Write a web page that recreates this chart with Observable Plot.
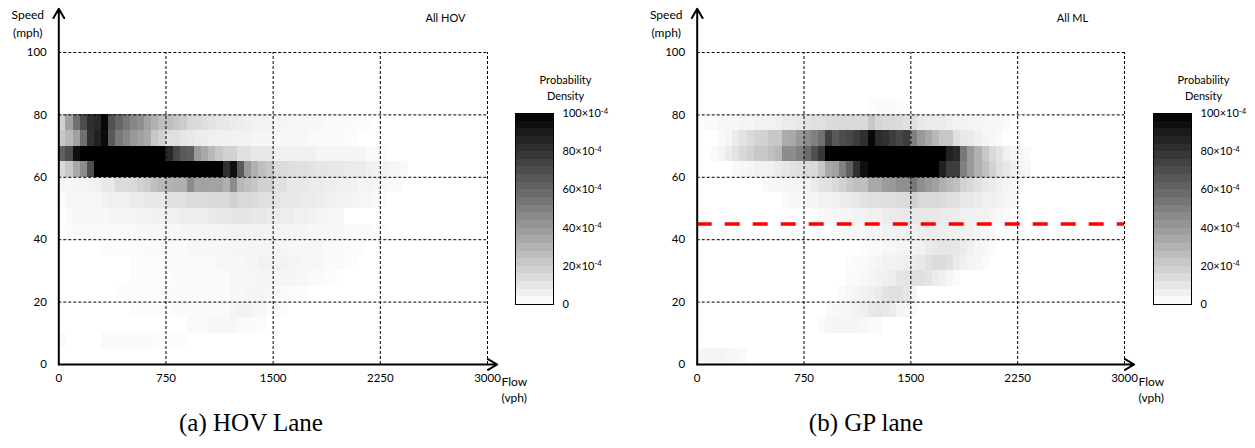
<!DOCTYPE html>
<html><head><meta charset="utf-8">
<script src="https://cdn.jsdelivr.net/npm/d3@7"></script>
<script src="https://cdn.jsdelivr.net/npm/@observablehq/plot@0.6"></script>
<style>
body{margin:0;background:#fff;}
#fig{position:relative;width:1255px;height:448px;overflow:hidden;font-family:Lato,"Open Sans",sans-serif;}
#fig svg{position:absolute;overflow:visible;}
.cap{position:absolute;top:409px;font-family:"Liberation Serif","Times New Roman",serif;font-size:25px;color:#000;white-space:nowrap;transform:translateX(-50%);}
</style></head><body><div id="fig"></div>
<script>
// ---- data (density in units of 10^-4) ----
const flowBin = 50;   // vph per cell
const speedBin = 5;   // mph per cell
const speedBins = [80,75,70,65,60,55,50,45,40,35,30,25,20,15,10,5,0];
const xTickValues = [0,750,1500,2250,3000];
const yTickValues = [0,20,40,60,80,100];
const legendTicks = [0,20,40,60,80,100];
const gpSpeedThreshold = [45];

// HOV lane: one row per speed bin (top = 80 mph), one value per 50-vph flow bin from 0
const hovDensity = [
  [],
  [18,37,56,70,82,84,97,68,60,53,47,44,37,31,26,25,22,20,15,14,12,11,10,9,8,7,6,5,5,5,4,4,3,3,3,3,3,2,2,2,2,2,1,1],
  [22,28,37,56,81,87,96,65,53,47,40,37,34,22,18,12,12,10,9,8,7,6,6,6,5,5,5,4,4,4,3,3,3,3,3,2,2,2,2,2,1,1],
  [62,70,94,110,120,125,130,130,130,130,130,125,120,115,110,84,72,65,63,40,34,28,22,18,18,12,12,9,9,9,6,6,6,6,6,6,4,4,4,4,4,4,4,2,2,2],
  [15,22,34,45,69,110,120,130,130,130,130,130,130,130,130,130,120,120,120,115,110,110,105,81,94,65,40,31,25,22,15,14,13,12,12,11,10,10,9,9,8,8,7,6,5,5,4,3,2],
  [3,3,4,4,5,6,9,9,14,14,15,18,20,25,28,30,31,31,45,36,37,36,36,31,45,28,25,22,18,18,12,12,9,9,9,8,8,7,7,6,6,5,4,4,3,3,2,2],
  [1,3,3,3,3,3,5,6,6,6,8,8,9,9,9,12,12,12,14,14,14,15,15,15,18,15,15,14,12,12,11,9,9,9,8,8,7,6,6,5,5,4,3,3,2,2],
  [0,2,3,3,3,3,3,4,4,4,4,5,5,6,6,6,6,7,7,7,7,8,9,9,10,10,10,9,9,8,8,7,7,6,6,5,4,4,3,3],
  [0,1,2,2,2,2,2,2,2,2,2,3,3,3,3,3,3,4,4,4,4,4,4,5,5,5,5,5,5,5,4,4,4,4,4,3,3,3,3,3,2,2,2,2,1,1],
  [0,0,0,0,0,0,1,1,1,1,1,2,2,2,2,2,2,2,3,3,3,3,3,3,4,4,4,4,4,4,4,4,3,3,3,3,3,2,2,2,2,1,1],
  [0,0,0,0,0,0,0,0,0,0,1,1,1,1,1,2,2,2,2,2,2,2,3,3,3,3,4,4,5,5,5,5,4,4,3,3,3,2,2,2,1,1],
  [0,0,0,0,0,0,0,0,0,0,1,1,1,1,1,1,2,2,2,2,2,2,2,2,3,3,3,3,4,4,4,4,4,3,3,2,2,1,1],
  [0,0,0,0,0,0,0,0,1,1,1,1,1,1,2,2,2,2,2,2,2,2,2,2,3,3,4,4,4,3,3,2,2,1,1],
  [0,0,0,0,0,0,0,0,0,0,1,1,1,1,1,1,2,2,2,2,2,2,2,2,4,5,5,4,3,2,2,1],
  [0,0,0,0,0,0,0,0,0,0,0,0,0,0,0,0,0,0,2,2,2,3,3,3,3,2,2,2,1],
  [2,0,0,0,0,0,2,2,2,2,2,2,2,1,1,1,1,1],
  []
];

// GP lane (All ML)
const gpDensity = [
  [0,0,0,0,0,0,0,0,0,0, 0,0,0,0,0,0,0,0,0,0, 0,0,0,0,1,2,2,2,1],
  [0,2,2,3,3,3,4,4,5,5,5,6,8,8,9,11,12,12,14,14,15,15,15,15,22,16,15,15,14,12,12,9,8,8,8,6,5,5,4,4,3,3,3,2],
  [0,0,0,2,4,8,11,14,17,18,22,22,33,34,40,45,50,56,75,65,70,72,76,81,97,83,81,76,72,76,50,40,34,28,22,22,12,9,8,6,4,3,2],
  [0,0,2,4,8,11,15,18,22,22,25,28,45,45,50,58,69,78,110,120,130,135,140,140,140,140,140,140,135,130,130,125,120,110,105,87,84,53,40,31,22,15,11,6,4,3,2],
  [0,0,0,0,0,2,3,4,5,5,6,8,9,11,12,14,15,22,34,37,50,62,81,94,110,120,130,135,135,135,130,125,115,105,87,76,76,50,40,31,25,18,12,9,6,4,3],
  [0,0,0,0,0,0,0,0,0,2,3,3,4,4,4,5,8,11,12,15,18,22,25,25,34,34,39,40,44,44,53,44,40,37,31,28,25,18,15,12,9,8,6,4,3,2],
  [0,0,0,0,0,0,0,0,0,0,0,0,2,3,3,4,4,5,5,6,7,8,9,11,12,12,13,13,14,14,18,15,15,15,14,13,12,9,9,8,6,6,5,4,3],
  [0,0,0,0,0,0,0,0,0,0, 0,0,0,0,0,0,0,2,3,3,4,4,5,5,6,6,7,8,8,9,9,9,9,9,8,8,7,6,6,5,5,4,3,2],
  [0,0,0,0,0,0,0,0,0,0, 0,0,0,0,0,0,0,0,0,0, 2,2,3,3,4,4,5,5,6,6,6,7,7,7,7,6,6,5,5,4,3,2],
  [0,0,0,0,0,0,0,0,0,0, 0,0,0,0,0,0,0,0,0,0, 0,0,0,1,2,2,3,3,4,4,5,6,8,9,10,10,9,8,6,4,3,2],
  [0,0,0,0,0,0,0,0,0,0, 0,0,0,0,0,0,0,0,0,0, 0,1,2,2,3,4,5,5,6,7,8,9,12,14,14,12,8,6,4,3,2],
  [0,0,0,0,0,0,0,0,0,0, 0,0,0,0,0,0,0,0,0,0, 0,2,2,3,4,5,6,7,10,11,12,12,11,8,6,4,2],
  [0,0,0,0,0,0,0,0,0,0, 0,0,0,0,0,0,0,0,0,0, 2,3,4,5,6,8,11,12,12,10,4],
  [0,0,0,0,0,0,0,0,0,0, 0,0,0,0,0,0,0,0,2,3,3,4,5,6,9,10,9,7,4,3,2],
  [0,0,0,0,0,0,0,0,0,0, 0,0,0,0,0,0,0,2,3,4,4,4,4,3,2,2],
  [],
  [3,4,4,4,3,3,2]
];

// ---- drawing ----
const FONT = "Lato, 'Open Sans', sans-serif";
const colorScale = {type: "linear", domain: [0, 100], range: ["#ffffff", "#000000"], clamp: true};
const axisTopSpeed = 114;   // y-axis arrow extends beyond 100
const axisRightFlow = 3068; // x-axis arrow extends beyond 3000

function toCells(matrix) {
  const out = [];
  speedBins.forEach((s, i) => matrix[i].forEach((v, j) => {
    if (v > 0) out.push({flow: j * flowBin, speed: s, v});
  }));
  return out;
}

function panel({matrix, tag, marginLeft, marginRight, extra = [], tagDx}) {
  return Plot.plot({
    width: 627, height: 400,
    marginLeft, marginRight, marginTop: 52, marginBottom: 36,
    style: {fontFamily: FONT, fontSize: "11.5px", color: "#000", background: "transparent", overflow: "visible"},
    x: {domain: [0, 3000], ticks: xTickValues, tickSize: 0, tickPadding: 9, label: null, tickFormat: d => String(d)},
    y: {domain: [0, 100], ticks: yTickValues, tickSize: 0, tickPadding: 12, label: null, tickFormat: d => String(d)},
    color: colorScale,
    marks: [
      Plot.rect(toCells(matrix), {
        x1: "flow", x2: d => d.flow + flowBin,
        y1: "speed", y2: d => d.speed + speedBin,
        fill: "v", shapeRendering: "crispEdges"
      }),
      Plot.ruleX(xTickValues.slice(1), {y1: 0, y2: 100, stroke: "#000", strokeWidth: 1, strokeDasharray: "3,2"}),
      Plot.ruleY(yTickValues.slice(1), {x1: 0, x2: 3000, stroke: "#000", strokeWidth: 1, strokeDasharray: "3,2"}),
      ...extra,
      Plot.arrow([null], {x1: 0, y1: 0, x2: 0, y2: axisTopSpeed, stroke: "#000", strokeWidth: 2, headLength: 8, insetStart: 0, insetEnd: 0}),
      Plot.arrow([null], {x1: 0, y1: 0, x2: axisRightFlow, y2: 0, stroke: "#000", strokeWidth: 2, headLength: 8, insetStart: 0, insetEnd: 0}),
      Plot.text(["Speed\n(mph)"], {frameAnchor: "top-left", lineAnchor: "middle", dx: -31, dy: -30.5, lineHeight: 1.55, fontSize: 12, textAnchor: "middle"}),
      Plot.text(["Flow\n(vph)"], {frameAnchor: "bottom-right", lineAnchor: "middle", dx: 14, dy: 24.5, lineHeight: 1.35, fontSize: 12, textAnchor: "start"}),
      Plot.text([tag], {frameAnchor: "top-right", lineAnchor: "middle", dx: tagDx, dy: -34, fontSize: 11, textAnchor: "middle"})
    ]
  });
}

function colorbar() {
  const steps = d3.range(0, 100, 4);
  const svg = Plot.plot({
    width: 118, height: 215,
    marginLeft: 10, marginRight: 70, marginTop: 12, marginBottom: 12,
    style: {fontFamily: FONT, fontSize: "11px", color: "#000", background: "transparent", overflow: "visible"},
    x: {domain: [0, 1], axis: null},
    y: {domain: [0, 100], axis: "right", ticks: legendTicks, tickSize: 0, tickPadding: 9, label: null,
        tickFormat: d => d === 0 ? "0" : `${d}×10`},
    color: colorScale,
    marks: [
      Plot.rect(steps, {x1: 0, x2: 1, y1: d => d, y2: d => d + 4, fill: d => d + 2, shapeRendering: "crispEdges"}),
      Plot.frame({stroke: "#000", strokeWidth: 1}),
      Plot.text(["Probability\nDensity"], {frameAnchor: "top", lineAnchor: "middle", dx: 31, dy: -26.5, lineHeight: 1.4, fontSize: 11})
    ]
  });
  svg.querySelectorAll('g[aria-label="y-axis tick label"] text').forEach(t => {
    if (t.textContent !== "0") {
      const ts = document.createElementNS("http://www.w3.org/2000/svg", "tspan");
      ts.setAttribute("dy", "-0.45em");
      ts.setAttribute("font-size", "0.7em");
      ts.textContent = "-4";
      t.appendChild(ts);
    }
  });
  return svg;
}

const fig = document.getElementById("fig");

const a = panel({matrix: hovDensity, tag: "All HOV", marginLeft: 58.3, marginRight: 140, tagDx: -42});
a.style.left = "0px"; a.style.top = "0px";
fig.appendChild(a);

const b = panel({matrix: gpDensity, tag: "All ML", marginLeft: 68.7, marginRight: 131, tagDx: -52,
  extra: [Plot.ruleY(gpSpeedThreshold, {x1: 0, x2: 3000, stroke: "#ff0000", strokeWidth: 3.5, strokeDasharray: "15,13"})]});
b.style.left = "628px"; b.style.top = "0px";
fig.appendChild(b);

const ca = colorbar(); ca.style.left = "505px"; ca.style.top = "101px"; fig.appendChild(ca);
const cb = colorbar(); cb.style.left = "1143px"; cb.style.top = "101px"; fig.appendChild(cb);

for (const [txt, cx] of [["(a) HOV Lane", 251], ["(b) GP lane", 866]]) {
  const d = document.createElement("div");
  d.className = "cap"; d.textContent = txt; d.style.left = cx + "px";
  fig.appendChild(d);
}
</script>
</body></html>
